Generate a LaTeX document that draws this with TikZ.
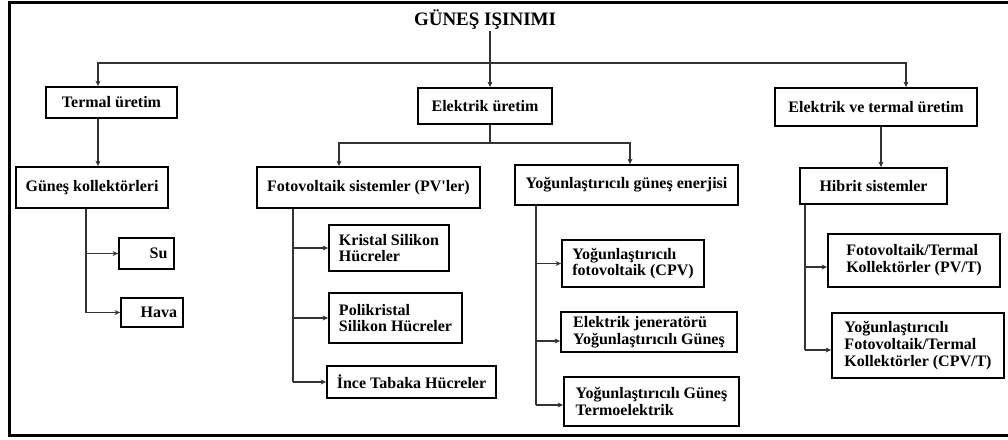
\documentclass[tikz,border=0pt]{standalone}
\usepackage{fontspec}
\setmainfont{Liberation Serif}[Ligatures=TeXOff]
\usetikzlibrary{arrows.meta}
\begin{document}
\begin{tikzpicture}[x=1pt,y=-1pt,
  box/.style 2 args={draw=black, line width=1.8pt, align=left, inner sep=2pt,
    font=\bfseries\fontsize{16}{16.8}\selectfont,
    minimum width=#1pt, minimum height=#2pt},
  arr/.style={draw=black!80, line width=1.2pt, -{Stealth[length=5.5pt,width=5pt]}},
  ln/.style={draw=black!80, line width=1.2pt},
  titlestyle/.style={font=\bfseries\fontsize{19}{22}\selectfont, inner sep=1pt}
]
\useasboundingbox (0,0) rectangle (1008,439);
% outer frame (open at right)
\draw[line width=3pt] (1008,2) -- (9,2) -- (9,435) -- (1008,435);

% title
\node[titlestyle] (title) at (485,20) {GÜNEŞ IŞINIMI};

% level 1
\node[box={131}{31}] (termal) at (111.5,102.5) {Termal üretim};
\node[box={134}{36}] (elek) at (485,106) {Elektrik üretim};
\node[box={202}{38}] (evt) at (876,107) {Elektrik ve termal üretim};

% level 2
\node[box={152}{41}] (gk) at (92,187.5) {Güneş kollektörleri};
\node[box={223}{41}] (pv) at (368.5,187.5) {Fotovoltaik sistemler (PV'ler)};
\node[box={223}{40}] (yge) at (626.5,185) {Yoğunlaştırıcılı güneş enerjisi};
\node[box={147}{36}] (hs) at (873.5,186) {Hibrit sistemler};

% level 3
\node[box={55}{31}, align=right, text width=42pt] (su) at (146.5,253.5) {Su};
\node[box={62}{29}, align=right, text width=50pt] (hava) at (152,312.5) {Hava};

\node[box={120}{46}] (ks) at (389,248) {Kristal Silikon\\Hücreler};
\node[box={133}{50}] (pks) at (395.5,318) {Polikristal\\Silikon Hücreler};
\node[box={169}{32}] (it) at (411.5,382) {İnce Tabaka Hücreler};

\node[box={142}{47}] (cpv) at (633,263.5) {Yoğunlaştırıcılı\\fotovoltaik (CPV)};
\node[box={176}{40}] (ejg) at (649,332) {Elektrik jeneratörü\\Yoğunlaştırıcılı Güneş};
\node[box={175}{49}] (ygt) at (651.5,401.5) {Yoğunlaştırıcılı Güneş\\Termoelektrik};

\node[box={172}{53}] (pvt) at (914,260.5) {Fotovoltaik/Termal\\Kollektörler (PV/T)};
\node[box={172}{65}] (cpvt) at (918,345.5) {Yoğunlaştırıcılı\\Fotovoltaik/Termal\\Kollektörler (CPV/T)};

% junction coordinates
\coordinate (hub) at (490,63);
\coordinate (ehub) at (490,143);

% top level connectors
\draw[arr] (title.south -| hub) -- ([xshift=5pt]elek.north);
\draw[arr] (hub) -| ([xshift=-13.5pt]termal.north);
\draw[arr] (hub) -| ([xshift=30pt]evt.north);

% thermal branch
\draw[arr] ([xshift=-13.5pt]termal.south) -- ([xshift=-13.5pt]termal.south |- gk.north);
\draw[ln] ([xshift=-6pt]gk.south) -- ([xshift=-6pt]gk.south |- hava.west);
\draw[arr] ([xshift=-6pt]gk.south |- su.west) -- (su.west);
\draw[arr] ([xshift=-6pt]gk.south |- hava.west) -- (hava.west);

% electric branch
\draw[ln] ([xshift=5pt]elek.south) -- (ehub);
\draw[arr] (ehub) -| ([xshift=-29.5pt]pv.north);
\draw[arr] (ehub) -| ([xshift=3.5pt]yge.north);

\draw[ln] ([xshift=-75.5pt]pv.south) -- ([xshift=-75.5pt]pv.south |- it.west);
\draw[arr] ([xshift=-75.5pt]pv.south |- ks.west) -- (ks.west);
\draw[arr] ([xshift=-75.5pt]pv.south |- pks.west) -- (pks.west);
\draw[arr] ([xshift=-75.5pt]pv.south |- it.west) -- (it.west);

\draw[ln] ([xshift=-90.5pt]yge.south) -- ([xshift=-90.5pt,yshift=-3.5pt]yge.south |- ygt.west);
\draw[arr] ([xshift=-90.5pt]yge.south |- cpv.west) -- (cpv.west);
\draw[arr] ([xshift=-90.5pt,yshift=-9pt]yge.south |- ejg.west) -- ([yshift=-9pt]ejg.west);
\draw[arr] ([xshift=-90.5pt,yshift=-3.5pt]yge.south |- ygt.west) -- ([yshift=-3.5pt]ygt.west);

% hybrid branch
\draw[arr] ([xshift=5pt]evt.south) -- ([xshift=5pt]evt.south |- hs.north);
\draw[ln] ([xshift=-68.5pt]hs.south) -- ([xshift=-68.5pt,yshift=-4.5pt]hs.south |- cpvt.west);
\draw[arr] ([xshift=-68.5pt,yshift=-6.5pt]hs.south |- pvt.west) -- ([yshift=-6.5pt]pvt.west);
\draw[arr] ([xshift=-68.5pt,yshift=-4.5pt]hs.south |- cpvt.west) -- ([yshift=-4.5pt]cpvt.west);
\end{tikzpicture}
\end{document}
